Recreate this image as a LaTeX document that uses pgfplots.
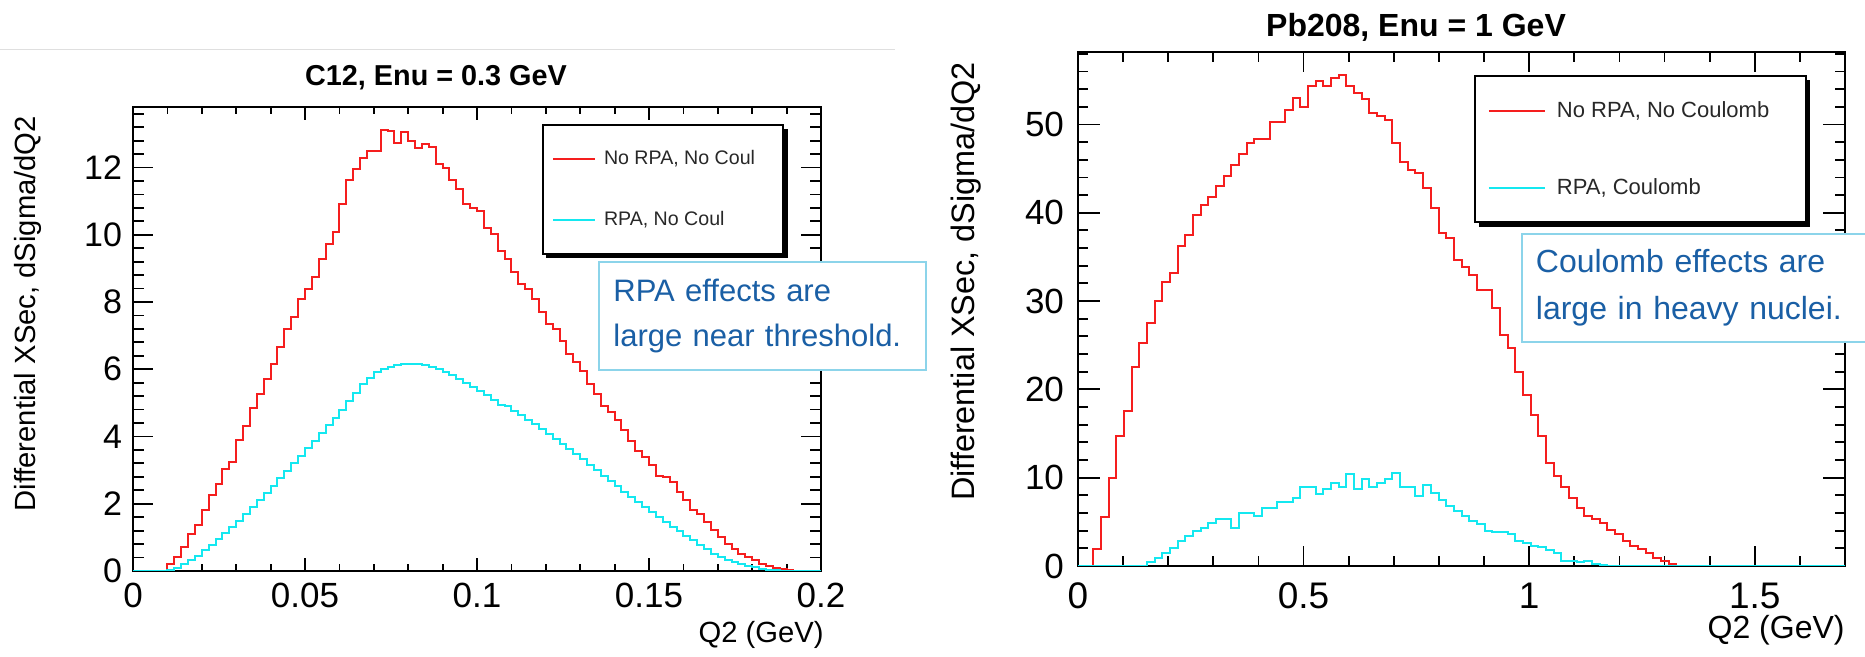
\documentclass[border=0pt]{standalone}
\usepackage{fontspec}
\setmainfont{Liberation Sans}
\usepackage{pgfplots}
\pgfplotsset{compat=1.18}
\definecolor{hred}{RGB}{245,30,30}
\definecolor{hcyan}{RGB}{20,232,240}
\definecolor{boxc}{RGB}{140,212,234}
\definecolor{txtc}{RGB}{26,95,165}
\definecolor{legt}{RGB}{40,40,40}
\pgfplotsset{
  rootframe/.style={scale only axis, anchor=south west, tick align=inside, tick pos=both,
    axis line style={line width=1pt}, every tick/.append style={line width=0.9pt, black},
    /pgf/number format/assume math mode=true, scaled ticks=false},
  rootlegend/.style={legend cell align=left,
    legend style={draw=black, line width=1pt, fill=white, anchor=north west, text=legt}}
}
\begin{document}
\begin{tikzpicture}
\useasboundingbox (0,0) rectangle (932.5pt,328.5pt);
\draw[gray!25, line width=0.6pt] (0,303.8pt) -- (447.5pt,303.8pt);
% ---------------- left plot: y ticks
\begin{axis}[rootframe, at={(66.5pt,43pt)}, width=344pt, height=232pt,
  xmin=0, xmax=0.2, ymin=0, ymax=13.8, xtick=\empty,
  ytick={0,2,4,6,8,10,12,14}, minor y tick num=4,
  major tick length=10pt, minor tick length=5.5pt,
  yticklabel style={font=\fontsize{17}{17}\selectfont, xshift=-2pt}]
\end{axis}
% ---------------- left plot: x ticks and data
\begin{axis}[rootframe, rootlegend, at={(66.5pt,43pt)}, width=344pt, height=232pt,
  xmin=0, xmax=0.2, ymin=0, ymax=13.8, ytick=\empty,
  xtick={0,0.05,0.1,0.15,0.2}, xticklabels={0,0.05,0.1,0.15,0.2}, minor x tick num=4,
  major tick length=6.5pt, minor tick length=3.5pt,
  xticklabel style={font=\fontsize{17.5}{17.5}\selectfont, yshift=-2.5pt},
  legend image code/.code={\draw[#1, line width=1pt] (0pt,0pt) -- (21pt,0pt); \path (23pt,0pt);},
  legend style={name=legL, at={(rel axis cs:0.5945,0.963)}, font=\fontsize{9.8}{10}\selectfont,
    inner xsep=4.5pt, inner ysep=10.5pt, row sep=18pt}]
\addplot[const plot, hred, line width=1pt] table {
x y
0 0
0.010 0.2
0.012 0.42
0.014 0.7
0.016 1.1
0.018 1.38
0.020 1.8
0.022 2.25
0.024 2.58
0.026 3.02
0.028 3.25
0.030 3.9
0.032 4.32
0.034 4.85
0.036 5.25
0.038 5.72
0.040 6.15
0.042 6.67
0.044 7.2
0.046 7.54
0.048 8.09
0.050 8.4
0.052 8.75
0.054 9.28
0.056 9.72
0.058 10.07
0.060 10.91
0.062 11.62
0.064 11.95
0.066 12.28
0.068 12.5
0.070 12.5
0.072 13.12
0.074 13.1
0.076 12.72
0.078 13.05
0.080 12.8
0.082 12.57
0.084 12.7
0.086 12.6
0.088 12.1
0.090 12.0
0.092 11.62
0.094 11.36
0.096 10.91
0.098 10.81
0.100 10.71
0.102 10.2
0.104 10.02
0.106 9.52
0.108 9.28
0.110 8.88
0.112 8.53
0.114 8.39
0.116 8.09
0.118 7.69
0.120 7.35
0.122 7.2
0.124 6.85
0.126 6.46
0.128 6.21
0.130 5.96
0.132 5.56
0.134 5.27
0.136 4.92
0.138 4.72
0.140 4.48
0.142 4.18
0.144 3.88
0.146 3.58
0.148 3.39
0.150 3.14
0.152 2.84
0.154 2.79
0.156 2.64
0.158 2.35
0.160 2.1
0.162 1.8
0.164 1.7
0.166 1.46
0.168 1.21
0.170 1.01
0.172 0.81
0.174 0.66
0.176 0.51
0.178 0.42
0.180 0.32
0.182 0.2
0.184 0.14
0.186 0.09
0.188 0.05
0.190 0.02
0.192 0.01
0.194 0
0.2 0
};
\addlegendentry{\makebox[83pt][l]{No RPA, No Coul}}
\addplot[const plot, hcyan, line width=1pt] table {
x y
0 0
0.010 0.02
0.012 0.1
0.014 0.2
0.016 0.32
0.018 0.46
0.020 0.62
0.022 0.78
0.024 0.95
0.026 1.12
0.028 1.3
0.030 1.5
0.032 1.7
0.034 1.9
0.036 2.1
0.038 2.32
0.040 2.54
0.042 2.76
0.044 2.98
0.046 3.2
0.048 3.42
0.050 3.65
0.052 3.88
0.054 4.1
0.056 4.33
0.058 4.56
0.060 4.8
0.062 5.05
0.064 5.3
0.066 5.55
0.068 5.75
0.070 5.92
0.072 6.02
0.074 6.08
0.076 6.12
0.078 6.15
0.080 6.16
0.082 6.15
0.084 6.14
0.086 6.08
0.088 6.0
0.090 5.92
0.092 5.82
0.094 5.72
0.096 5.6
0.098 5.47
0.100 5.35
0.102 5.22
0.104 5.08
0.106 4.95
0.108 4.9
0.110 4.75
0.112 4.63
0.114 4.5
0.116 4.37
0.118 4.22
0.120 4.08
0.122 3.93
0.124 3.78
0.126 3.63
0.128 3.47
0.130 3.32
0.132 3.16
0.134 3.0
0.136 2.84
0.138 2.68
0.140 2.52
0.142 2.36
0.144 2.2
0.146 2.05
0.148 1.9
0.150 1.75
0.152 1.6
0.154 1.46
0.156 1.32
0.158 1.18
0.160 1.05
0.162 0.92
0.164 0.78
0.166 0.64
0.168 0.52
0.170 0.42
0.172 0.33
0.174 0.26
0.176 0.2
0.178 0.15
0.180 0.11
0.182 0.07
0.184 0.04
0.186 0.02
0.188 0.01
0.190 0
0.2 0
};
\addlegendentry{RPA, No Coul}
\end{axis}
% ---------------- right plot: y ticks
\begin{axis}[rootframe, at={(539pt,45.5pt)}, width=383.5pt, height=257pt,
  xmin=0, xmax=1.7, ymin=0, ymax=58.2, xtick=\empty,
  ytick={0,10,20,30,40,50,60}, minor y tick num=4,
  major tick length=11pt, minor tick length=5pt,
  yticklabel style={font=\fontsize{17.5}{17.5}\selectfont, xshift=-3.5pt}]
\end{axis}
% ---------------- right plot: x ticks and data
\begin{axis}[rootframe, rootlegend, at={(539pt,45.5pt)}, width=383.5pt, height=257pt,
  xmin=0, xmax=1.7, ymin=0, ymax=58.2, ytick=\empty,
  xtick={0,0.5,1,1.5,2}, xticklabels={0,0.5,1,1.5,2}, minor x tick num=4,
  major tick length=10pt, minor tick length=5pt,
  xticklabel style={font=\fontsize{18.5}{18.5}\selectfont, yshift=-5pt},
  legend image code/.code={\draw[#1, line width=1pt] (0pt,0pt) -- (28pt,0pt); \path (31.6pt,0pt);},
  legend style={name=legR, at={(rel axis cs:0.5165,0.955)}, font=\fontsize{11}{11}\selectfont,
    inner xsep=6.3pt, inner ysep=10.5pt, row sep=25pt}]
\addplot[const plot, hred, line width=1pt] table {
x y
0 0
0.034 1.9
0.051 5.5
0.068 10.0
0.085 14.7
0.102 17.5
0.119 22.5
0.136 25.2
0.153 27.5
0.170 30.0
0.187 32.2
0.204 33.2
0.221 36.2
0.238 37.5
0.255 39.75
0.272 40.9
0.289 41.8
0.306 43.0
0.323 44.2
0.340 45.4
0.357 46.7
0.374 47.9
0.391 48.3
0.408 48.3
0.425 50.3
0.442 50.3
0.459 51.6
0.476 53.0
0.493 52.0
0.510 54.3
0.527 54.9
0.544 54.4
0.561 55.3
0.578 55.6
0.595 54.4
0.612 53.6
0.629 52.9
0.646 51.3
0.663 51.0
0.680 50.5
0.697 47.9
0.714 45.8
0.731 44.8
0.748 44.5
0.765 42.8
0.782 40.5
0.799 37.7
0.816 37.1
0.833 34.7
0.850 33.9
0.867 33.0
0.884 31.3
0.901 31.3
0.918 29.2
0.935 26.2
0.952 24.7
0.969 22.0
0.986 19.4
1.003 17.1
1.020 14.7
1.037 11.7
1.054 10.2
1.071 9.0
1.088 7.7
1.105 6.6
1.122 5.65
1.139 5.3
1.156 4.9
1.173 4.1
1.190 3.6
1.207 2.8
1.224 2.3
1.241 1.9
1.258 1.5
1.275 0.9
1.292 0.55
1.309 0.25
1.326 0.05
1.343 0
1.7 0
};
\addlegendentry{\makebox[116pt][l]{No RPA, No Coulomb}}
\addplot[const plot, hcyan, line width=1pt] table {
x y
0 0
0.153 0.4
0.170 0.9
0.187 1.5
0.204 2.0
0.221 2.8
0.238 3.4
0.255 4.0
0.272 4.3
0.289 4.9
0.306 5.3
0.323 5.3
0.340 4.3
0.357 6.0
0.374 6.0
0.391 5.65
0.408 6.6
0.425 6.6
0.442 7.2
0.459 7.2
0.476 7.7
0.493 8.9
0.510 8.9
0.527 8.1
0.544 8.7
0.561 9.4
0.578 9.0
0.595 10.4
0.612 8.7
0.629 9.8
0.646 8.9
0.663 9.4
0.680 9.8
0.697 10.5
0.714 9.0
0.731 9.0
0.748 7.9
0.765 9.2
0.782 8.3
0.799 7.5
0.816 6.8
0.833 6.2
0.850 5.65
0.867 5.1
0.884 4.7
0.901 4.0
0.918 3.8
0.935 3.8
0.952 3.6
0.969 2.8
0.986 2.6
1.003 2.3
1.020 2.1
1.037 1.8
1.054 1.5
1.071 0.6
1.088 0.6
1.105 0.4
1.122 0.6
1.139 0.25
1.156 0.1
1.173 0
1.7 0
};
\addlegendentry{RPA, Coulomb}
\end{axis}
% ---------------- legend shadows (ROOT style)
\foreach \L in {legL,legR}{
  \fill[black] ([yshift=-2.2pt]\L.north east) rectangle ([xshift=1.8pt,yshift=-1.8pt]\L.south east);
  \fill[black] ([xshift=2.2pt]\L.south west) rectangle ([xshift=1.8pt,yshift=-1.8pt]\L.south east);
}
% ---------------- titles and labels
\node[anchor=base, font=\bfseries\fontsize{14.4}{14.4}\selectfont] at (218pt,285.5pt) {C12, Enu = 0.3 GeV};
\node[anchor=base, font=\bfseries\fontsize{16}{16}\selectfont] at (708pt,310pt) {Pb208, Enu = 1 GeV};
\node[rotate=90, anchor=east, font=\fontsize{14.6}{14.6}\selectfont] at (14pt,274pt) {Differential XSec, dSigma/dQ2};
\node[rotate=90, anchor=east, font=\fontsize{16.2}{16.2}\selectfont] at (483pt,301pt) {Differential XSec, dSigma/dQ2};
\node[anchor=base east, inner sep=0pt, font=\fontsize{14.6}{14.6}\selectfont] at (412pt,7pt) {Q2 (GeV)};
\node[anchor=base east, inner sep=0pt, font=\fontsize{16}{16}\selectfont] at (922.5pt,9pt) {Q2 (GeV)};
% ---------------- annotation boxes
\node[draw=boxc, fill=white, line width=0.9pt, anchor=north west, minimum width=163.5pt,
  minimum height=54pt, text width=149pt, inner xsep=7pt, align=left, text=txtc,
  font=\fontsize{15.5}{22.5}\selectfont] at (299pt,198pt) {RPA effects are\\large near threshold.};
\node[draw=boxc, fill=white, line width=0.9pt, anchor=north west, minimum width=200pt,
  minimum height=54pt, text width=186pt, inner xsep=7pt, align=left, text=txtc,
  font=\fontsize{16}{23.5}\selectfont] at (760.5pt,212pt) {Coulomb effects are\\large in heavy nuclei.};
\end{tikzpicture}
\end{document}
